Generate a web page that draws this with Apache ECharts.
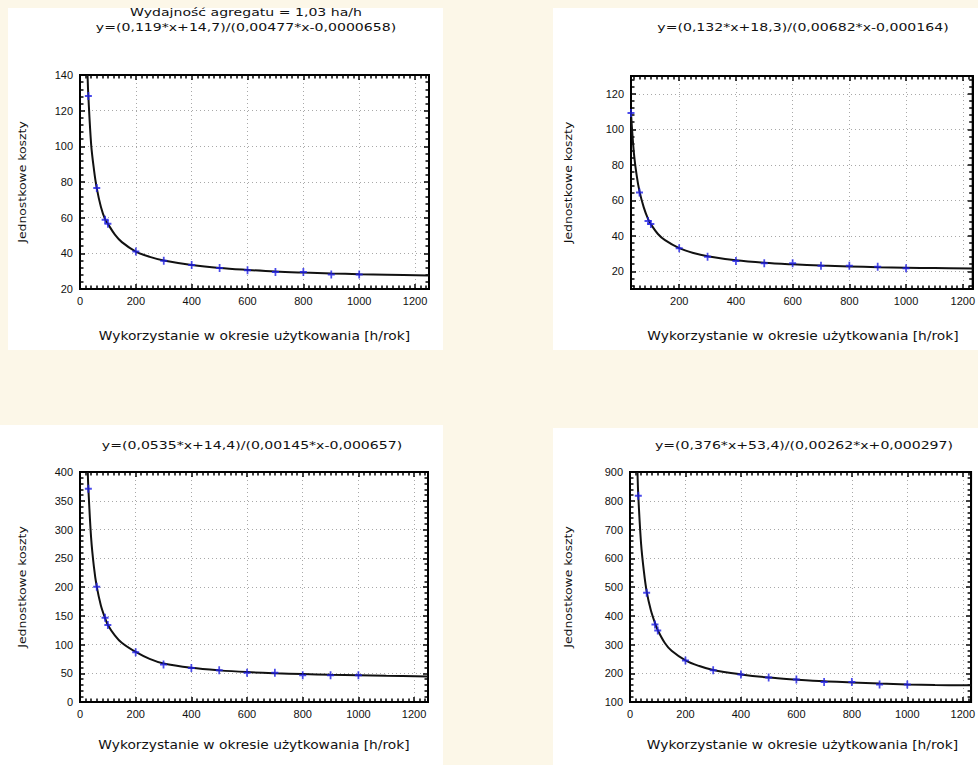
<!DOCTYPE html>
<html>
<head>
<meta charset="utf-8">
<script src="https://cdn.jsdelivr.net/npm/echarts@6/dist/echarts.min.js"></script>
<style>
html,body{margin:0;padding:0;background:#fcf7e8;}
#chart{width:978px;height:765px;}
</style>
</head>
<body>
<div id="chart"></div>
<script>
// ---- data ----
const hours = [30, 60, 90, 100, 200, 300, 400, 500, 600, 700, 800, 900, 1000];
const costA = [128.2, 76.6, 58.8, 56.6, 41.0, 35.9, 33.4, 31.8, 30.5, 29.6, 29.6, 28.1, 28.1];
const costB = [109.2, 64.4, 48.3, 46.6, 32.9, 28.2, 25.8, 24.5, 24.5, 23.1, 23.1, 22.6, 21.7];
const costC = [371, 200.5, 146.5, 133.8, 86.7, 65.2, 59.3, 55.3, 51, 51, 46.7, 46.7, 46.7];
const costD = [817, 480, 370, 349, 244.5, 210.7, 196, 185.2, 178, 170, 170, 161, 161];

const fitXA = [27, 30, 40, 50, 60, 75, 90, 100, 125, 150, 200, 250, 300, 400, 500, 600, 700, 800, 900, 1000, 1100, 1250];
const fitYA = [140, 128, 101, 87, 76.6, 66, 59, 56.5, 50.5, 46.3, 41, 38, 36, 33.5, 31.8, 30.7, 29.8, 29.2, 28.7, 28.3, 28, 27.6];
const fitXB = [30, 40, 50, 60, 75, 90, 100, 125, 150, 200, 250, 300, 400, 500, 600, 700, 800, 900, 1000, 1100, 1235];
const fitYB = [109, 87, 74, 65, 56, 49.5, 46.5, 41, 37.5, 33, 30.3, 28.5, 26.2, 24.8, 23.9, 23.2, 22.7, 22.3, 22, 21.8, 21.6];
const fitXC = [28, 30, 40, 50, 60, 75, 90, 100, 125, 150, 200, 250, 300, 400, 500, 600, 700, 800, 900, 1000, 1100, 1250];
const fitYC = [400, 372, 285, 235, 201, 168, 146, 134, 116, 103, 87, 75, 67, 59.5, 55, 52, 50, 48.5, 47.3, 46.5, 45.5, 44.5];
const fitXD = [27, 30, 40, 50, 60, 75, 90, 100, 125, 150, 200, 250, 300, 400, 500, 600, 700, 800, 900, 1000, 1100, 1230];
const fitYD = [900, 815, 650, 555, 485, 420, 375, 350, 306, 278, 245, 225, 211, 196, 185, 178, 172, 168, 164, 161, 159, 158];

// axis limits [min, max, label step]
const xLimA = [0, 1250, 200];
const xLimB = [30, 1235, 200];
const xLimC = [0, 1250, 200];
const xLimD = [0, 1230, 200];
const yLimA = [20, 140, 20];
const yLimB = [10, 130, 20];
const yLimC = [0, 400, 50];
const yLimD = [100, 900, 100];

const titleA = ['Wydajność agregatu = 1,03 ha/h', 'y=(0,119*x+14,7)/(0,00477*x-0,0000658)'];
const titleB = ['y=(0,132*x+18,3)/(0,00682*x-0,000164)'];
const titleC = ['y=(0,0535*x+14,4)/(0,00145*x-0,000657)'];
const titleD = ['y=(0,376*x+53,4)/(0,00262*x+0,000297)'];
const yName = 'Jednostkowe koszty';
const xName = 'Wykorzystanie w okresie użytkowania [h/rok]';

// ---- layout ----
const grids = [
  {left: 80, top: 75, width: 349, height: 214},
  {left: 631, top: 76, width: 344, height: 213},
  {left: 80, top: 472, width: 348, height: 230},
  {left: 630, top: 472, width: 345, height: 230}
];
const yNameX = [22, 568, 22, 568];
const titleX = [246, 803, 252, 804];
const titleY = [27, 27, 445, 445];
const panels = [
  {pts: costA, fx: fitXA, fy: fitYA, xl: xLimA, yl: yLimA, title: titleA},
  {pts: costB, fx: fitXB, fy: fitYB, xl: xLimB, yl: yLimB, title: titleB},
  {pts: costC, fx: fitXC, fy: fitYC, xl: xLimC, yl: yLimC, title: titleC},
  {pts: costD, fx: fitXD, fy: fitYD, xl: xLimD, yl: yLimD, title: titleD}
];

const FONT = 'Liberation Sans, Arial, sans-serif';
const black = '#000';

function makeAxis(dim, idx, lim, pos, primary, minorN) {
  const step = lim[2];
  const a = {
    show: true,
    type: 'value', gridIndex: idx, position: pos,
    min: lim[0], max: lim[1],
    axisLine: {show: true, onZero: false, lineStyle: {color: black, width: 2}},
    axisTick: {show: true, inside: true, length: 5, lineStyle: {color: black, width: 1.5}},
    minorTick: {show: true, splitNumber: minorN, length: 3.5, lineStyle: {color: black, width: 1.5}},
    axisLabel: {show: primary, color: '#111', fontFamily: FONT, fontSize: 11,
                margin: dim === 'x' ? 6 : 7,
                formatter: v => (Math.abs(v / step - Math.round(v / step)) < 1e-6 ? String(v) : '')},
    splitLine: {show: primary, lineStyle: {color: '#a8a8a8', type: [1, 3], width: 1}},
    minorSplitLine: {show: false}
  };
  if (lim[0] % step === 0) a.interval = step; else a.splitNumber = Math.round((lim[1] - lim[0]) / step);
  return a;
}

const xAxes = [], yAxes = [], series = [], graphics = [];

// background white areas
[[8, 8, 435, 342], [553, 8, 425, 342], [0, 425, 443, 340], [553, 428, 425, 337]].forEach(r => {
  graphics.push({type: 'rect', z: -10, silent: true, shape: {x: r[0], y: r[1], width: r[2], height: r[3]}, style: {fill: '#ffffff'}});
});

function txt(t, x, y, size, sx, rot) {
  return {type: 'text', x: x, y: y, rotation: rot || 0, scaleX: sx, scaleY: 1, silent: true, z: 10,
    style: {text: t, fill: '#111', font: size + 'px DejaVu Sans', textAlign: 'center', textVerticalAlign: 'middle', align: 'center', verticalAlign: 'middle'}};
}

panels.forEach((p, i) => {
  xAxes.push(makeAxis('x', i, p.xl, 'bottom', true, 10));
  xAxes.push(makeAxis('x', i, p.xl, 'top', false, 10));
  yAxes.push(makeAxis('y', i, p.yl, 'left', true, 5));
  yAxes.push(makeAxis('y', i, p.yl, 'right', false, 5));
  series.push({
    type: 'line', xAxisIndex: 2 * i, yAxisIndex: 2 * i,
    data: p.fx.map((x, k) => [x, p.fy[k]]),
    showSymbol: false, smooth: 0.35,
    lineStyle: {color: '#111', width: 2}, z: 3, silent: true
  });
  series.push({
    type: 'scatter', xAxisIndex: 2 * i, yAxisIndex: 2 * i,
    data: hours.map((x, k) => [x, p.pts[k]]),
    symbol: 'path://M3,0H5V3H8V5H5V8H3V5H0V3H3Z', symbolSize: [7, 8],
    itemStyle: {color: '#1f1fe6'}, z: 4, silent: true
  });
  series.push({
    type: 'line', xAxisIndex: 2 * i + 1, yAxisIndex: 2 * i + 1,
    data: [], silent: true
  });
  const g = grids[i];
  const cx = g.left + g.width / 2;
  const tl = p.title;
  tl.forEach((t, k) => {
    graphics.push(txt(t, titleX[i], titleY[i] - (tl.length - 1 - k) * 15, 11, 1.28));
  });
  graphics.push(txt(xName, cx, g.top + g.height + (i < 2 ? 47 : 43), 11.5, 1.2));
  graphics.push(txt(yName, yNameX[i], g.top + g.height / 2, 11, 1.13, Math.PI / 2));
});

const chart = echarts.init(document.getElementById('chart'), null, {renderer: 'svg'});
chart.setOption({
  backgroundColor: '#fcf7e8',
  animation: false,
  grid: grids.map(g => Object.assign({show: true, backgroundColor: '#fff', borderColor: '#000', borderWidth: 2, containLabel: false}, g)),
  xAxis: xAxes,
  yAxis: yAxes,
  series: series,
  graphic: graphics
});
</script>
</body>
</html>
